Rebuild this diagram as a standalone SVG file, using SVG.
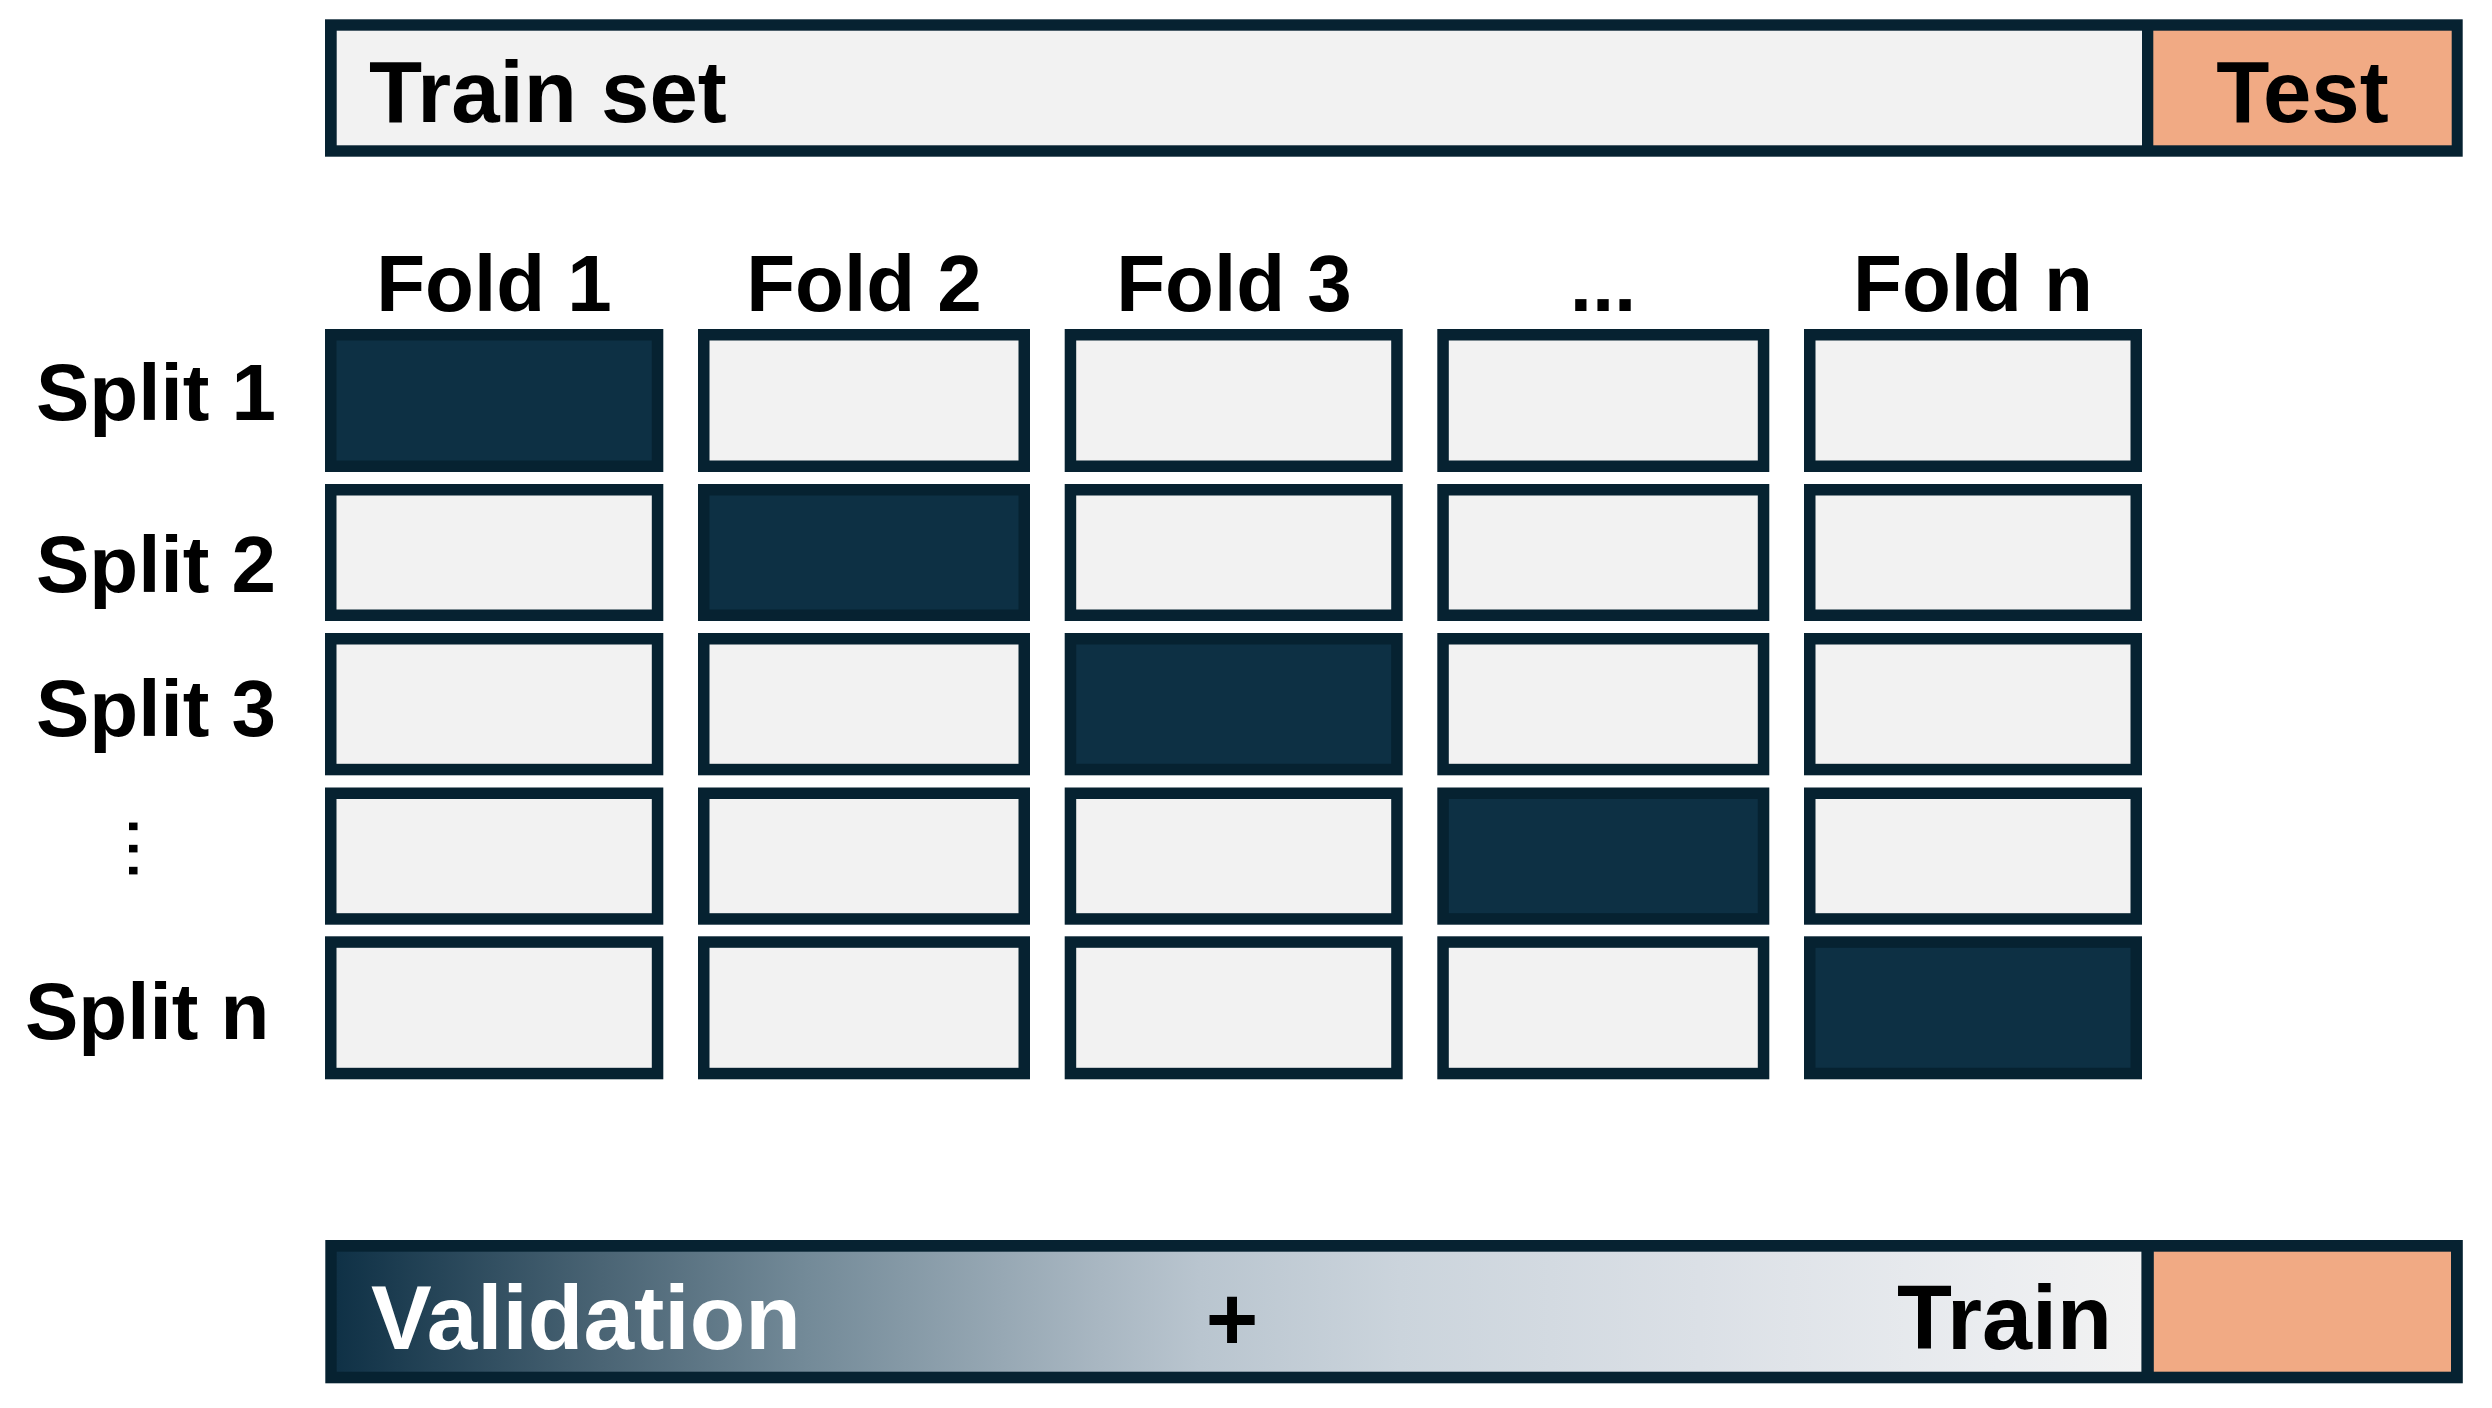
<svg xmlns="http://www.w3.org/2000/svg" width="2492" height="1408" viewBox="0 0 2492 1408">
  <style>
    .bd { fill: #062231; }
    .lt { fill: #F2F2F2; }
    .dk { fill: #0D3044; }
    .or { fill: #F1AA84; }
    .t80 { font-family: "Liberation Sans", Arial, sans-serif; font-weight: bold; font-size: 80px; fill: #000000; }
    .t87 { font-family: "Liberation Sans", Arial, sans-serif; font-weight: bold; font-size: 87px; fill: #000000; }
    .t90 { font-family: "Liberation Sans", Arial, sans-serif; font-weight: bold; font-size: 90px; fill: #000000; }
    .mid { text-anchor: middle; }
  </style>
  <defs>
    <linearGradient id="vg" gradientUnits="userSpaceOnUse" x1="337" y1="0" x2="2142" y2="0">
      <stop offset="0" stop-color="#0F3146"/>
      <stop offset="0.146" stop-color="#4A6474"/>
      <stop offset="0.26" stop-color="#738A98"/>
      <stop offset="0.423" stop-color="#A9B7C2"/>
      <stop offset="0.478" stop-color="#B9C5CF"/>
      <stop offset="0.589" stop-color="#CBD4DC"/>
      <stop offset="0.755" stop-color="#DBE0E6"/>
      <stop offset="0.92" stop-color="#EBEDF0"/>
      <stop offset="1" stop-color="#F2F2F2"/>
    </linearGradient>
  </defs>
  <rect x="0" y="0" width="2492" height="1408" fill="#FFFFFF"/>

  <g id="top-bar">
    <rect class="bd" x="325" y="19.3" width="2137.7" height="137.4"/>
    <rect class="lt" x="336.7" y="30.7" width="1805.3" height="114.6"/>
    <rect class="or" x="2153.3" y="30.7" width="298.4" height="114.6"/>
    <text class="t87" x="369" y="122">Train set</text>
    <text class="t87 mid" x="2302.5" y="122">Test</text>
  </g>

  <g id="fold-labels">
    <text class="t80 mid" x="494" y="311">Fold 1</text>
    <text class="t80 mid" x="864" y="311">Fold 2</text>
    <text class="t80 mid" x="1234" y="311">Fold 3</text>
    <text class="t80 mid" x="1603" y="311">...</text>
    <text class="t80 mid" x="1973" y="311">Fold n</text>
  </g>

  <g id="split-labels">
    <text class="t80" x="36" y="420">Split 1</text>
    <text class="t80" x="36" y="592">Split 2</text>
    <text class="t80" x="36" y="736">Split 3</text>
    <text class="t80 mid" x="133" y="853" style="font-weight:normal" transform="rotate(90 133 848.5)">...</text>
    <text class="t80" x="25" y="1039">Split n</text>
  </g>

  <!-- row 1 -->
  <g id="cell-1-1"><rect class="bd" x="325" y="329" width="338.3" height="143"/><rect class="dk" x="336.5" y="340.5" width="315.3" height="120"/></g>
  <g id="cell-1-2"><rect class="bd" x="698" y="329" width="332" height="143"/><rect class="lt" x="709.5" y="340.5" width="309" height="120"/></g>
  <g id="cell-1-3"><rect class="bd" x="1064.7" y="329" width="338" height="143"/><rect class="lt" x="1076.2" y="340.5" width="315" height="120"/></g>
  <g id="cell-1-4"><rect class="bd" x="1437.3" y="329" width="332" height="143"/><rect class="lt" x="1448.8" y="340.5" width="309" height="120"/></g>
  <g id="cell-1-5"><rect class="bd" x="1804" y="329" width="338" height="143"/><rect class="lt" x="1815.5" y="340.5" width="315" height="120"/></g>

  <!-- row 2 -->
  <g id="cell-2-1"><rect class="bd" x="325" y="484" width="338.3" height="137"/><rect class="lt" x="336.5" y="495.5" width="315.3" height="114"/></g>
  <g id="cell-2-2"><rect class="bd" x="698" y="484" width="332" height="137"/><rect class="dk" x="709.5" y="495.5" width="309" height="114"/></g>
  <g id="cell-2-3"><rect class="bd" x="1064.7" y="484" width="338" height="137"/><rect class="lt" x="1076.2" y="495.5" width="315" height="114"/></g>
  <g id="cell-2-4"><rect class="bd" x="1437.3" y="484" width="332" height="137"/><rect class="lt" x="1448.8" y="495.5" width="309" height="114"/></g>
  <g id="cell-2-5"><rect class="bd" x="1804" y="484" width="338" height="137"/><rect class="lt" x="1815.5" y="495.5" width="315" height="114"/></g>

  <!-- row 3 -->
  <g id="cell-3-1"><rect class="bd" x="325" y="633" width="338.3" height="142.3"/><rect class="lt" x="336.5" y="644.5" width="315.3" height="119.3"/></g>
  <g id="cell-3-2"><rect class="bd" x="698" y="633" width="332" height="142.3"/><rect class="lt" x="709.5" y="644.5" width="309" height="119.3"/></g>
  <g id="cell-3-3"><rect class="bd" x="1064.7" y="633" width="338" height="142.3"/><rect class="dk" x="1076.2" y="644.5" width="315" height="119.3"/></g>
  <g id="cell-3-4"><rect class="bd" x="1437.3" y="633" width="332" height="142.3"/><rect class="lt" x="1448.8" y="644.5" width="309" height="119.3"/></g>
  <g id="cell-3-5"><rect class="bd" x="1804" y="633" width="338" height="142.3"/><rect class="lt" x="1815.5" y="644.5" width="315" height="119.3"/></g>

  <!-- row 4 -->
  <g id="cell-4-1"><rect class="bd" x="325" y="787.5" width="338.3" height="137.2"/><rect class="lt" x="336.5" y="799" width="315.3" height="114.2"/></g>
  <g id="cell-4-2"><rect class="bd" x="698" y="787.5" width="332" height="137.2"/><rect class="lt" x="709.5" y="799" width="309" height="114.2"/></g>
  <g id="cell-4-3"><rect class="bd" x="1064.7" y="787.5" width="338" height="137.2"/><rect class="lt" x="1076.2" y="799" width="315" height="114.2"/></g>
  <g id="cell-4-4"><rect class="bd" x="1437.3" y="787.5" width="332" height="137.2"/><rect class="dk" x="1448.8" y="799" width="309" height="114.2"/></g>
  <g id="cell-4-5"><rect class="bd" x="1804" y="787.5" width="338" height="137.2"/><rect class="lt" x="1815.5" y="799" width="315" height="114.2"/></g>

  <!-- row 5 -->
  <g id="cell-5-1"><rect class="bd" x="325" y="936.3" width="338.3" height="143"/><rect class="lt" x="336.5" y="947.8" width="315.3" height="120"/></g>
  <g id="cell-5-2"><rect class="bd" x="698" y="936.3" width="332" height="143"/><rect class="lt" x="709.5" y="947.8" width="309" height="120"/></g>
  <g id="cell-5-3"><rect class="bd" x="1064.7" y="936.3" width="338" height="143"/><rect class="lt" x="1076.2" y="947.8" width="315" height="120"/></g>
  <g id="cell-5-4"><rect class="bd" x="1437.3" y="936.3" width="332" height="143"/><rect class="lt" x="1448.8" y="947.8" width="309" height="120"/></g>
  <g id="cell-5-5"><rect class="bd" x="1804" y="936.3" width="338" height="143"/><rect class="dk" x="1815.5" y="947.8" width="315" height="120"/></g>

  <g id="bottom-bar">
    <rect class="bd" x="325.3" y="1240" width="2137.5" height="143.3"/>
    <rect fill="url(#vg)" x="336.7" y="1251.7" width="1804.7" height="120"/>
    <rect class="or" x="2153.8" y="1251.7" width="297.2" height="120"/>
    <text class="t90" x="371" y="1349" style="fill:#FFFFFF;font-size:91px">Validation</text>
    <text class="t90 mid" x="1232" y="1350">+</text>
    <text class="t90" x="1897" y="1348.5">Train</text>
  </g>

  <g id="connectors"/>
</svg>
